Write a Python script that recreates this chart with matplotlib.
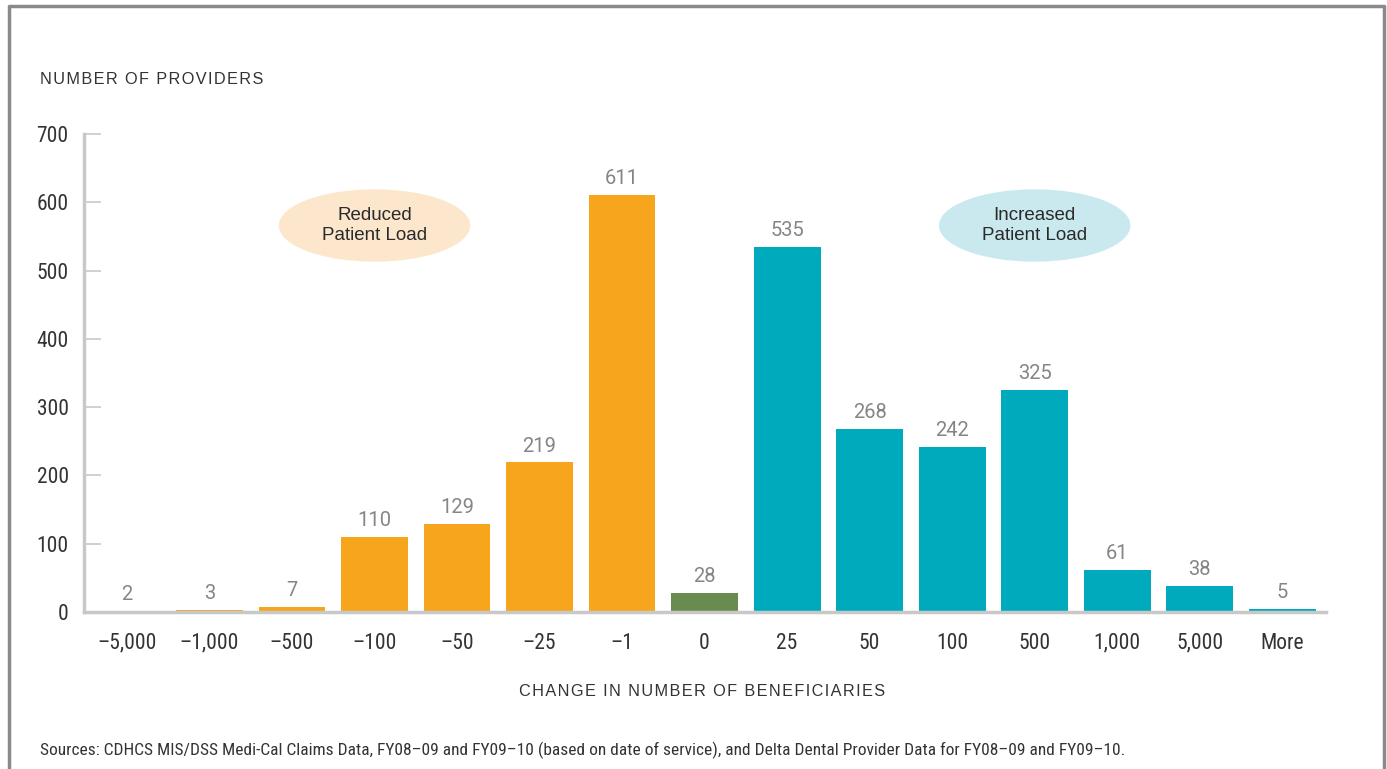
import matplotlib
matplotlib.use("Agg")
import matplotlib.pyplot as plt
from matplotlib.patches import Ellipse
from matplotlib import font_manager

categories = ["\u20135,000", "\u20131,000", "\u2013500", "\u2013100", "\u201350", "\u201325",
              "\u20131", "0", "25", "50", "100", "500", "1,000", "5,000", "More"]
providers = [2, 3, 7, 110, 129, 219, 611, 28, 535, 268, 242, 325, 61, 38, 5]
groups = ["reduced"] * 7 + ["none"] + ["increased"] * 7
yticks = [0, 100, 200, 300, 400, 500, 600, 700]

group_colors = {"reduced": "#F7A51D", "none": "#6A8B4F", "increased": "#00AABD"}

names = {f.name for f in font_manager.fontManager.ttflist}
narrow = "Roboto Condensed" if "Roboto Condensed" in names else "Roboto"
cond = [narrow, "DejaVu Sans"]
HS = "\u200a"


def spaced(s):
    return HS.join(s)


fig = plt.figure(figsize=(13.87, 7.69), dpi=100)
ax = fig.add_axes([84 / 1387, 1 - 612 / 769, (1326 - 84) / 1387, (612 - 134) / 769])

x = list(range(len(categories)))
ax.bar(x, providers, width=0.81, color=[group_colors[g] for g in groups], zorder=2)
for xi, v in zip(x, providers):
    ax.annotate(str(v), (xi, v), xytext=(0, 5), textcoords="offset points",
                ha="center", va="bottom", fontsize=14.5, color="#858585", family=["Roboto", "DejaVu Sans"])

ax.set_xlim(-0.52, len(categories) - 1 + 0.53)
ax.set_ylim(0, 700)
ax.set_yticks(yticks)
ax.set_yticklabels([str(t) for t in yticks], family=cond, fontsize=15.5, color="#333333")
ax.set_xticks(x)
ax.set_xticklabels(categories, family=cond, fontsize=15.5, color="#333333")
ax.tick_params(axis="y", direction="in", length=12, width=1.2, color="#C8C8C8", pad=11)
ax.tick_params(axis="x", length=0, pad=15)
for s in ["top", "right"]:
    ax.spines[s].set_visible(False)
ax.spines["left"].set_color("#C8C8C8")
ax.spines["left"].set_linewidth(2.5)
ax.spines["bottom"].set_color("#C8C8C8")
ax.spines["bottom"].set_linewidth(2.5)

ax.add_patch(Ellipse((3, 566), 2.32, 106, facecolor="#FDE7CC", edgecolor="none", zorder=1))
ax.text(3, 566, "Reduced\nPatient Load", ha="center", va="center", fontsize=13.5,
        color="#2A2A2A", linespacing=1.25, family="Liberation Sans")
ax.add_patch(Ellipse((11, 566), 2.32, 106, facecolor="#C9E9EF", edgecolor="none", zorder=1))
ax.text(11, 566, "Increased\nPatient Load", ha="center", va="center", fontsize=13.5,
        color="#2A2A2A", linespacing=1.25, family="Liberation Sans")

fig.text(40 / 1387, 1 - 80 / 769, spaced("NUMBER OF PROVIDERS"),
         fontsize=11.7, color="#333333", va="center", ha="left", family=["Liberation Sans", "DejaVu Sans"])
fig.text(702 / 1387, 1 - 692 / 769, spaced("CHANGE IN NUMBER OF BENEFICIARIES"),
         fontsize=11.7, color="#333333", va="center", ha="center", family=["Liberation Sans", "DejaVu Sans"])
fig.text(40 / 1387, 1 - 750 / 769,
         "Sources: CDHCS MIS/DSS Medi-Cal Claims Data, FY08\u201309 and FY09\u201310 (based on date of service), "
         "and Delta Dental Provider Data for FY08\u201309 and FY09\u201310.",
         fontsize=12.5, color="#333333", va="center", ha="left", family=cond)

# frame (open at bottom)
fig.add_artist(plt.Line2D([9 / 1387, 9 / 1387, 1384 / 1387, 1384 / 1387],
                          [0, 1 - 6 / 769, 1 - 6 / 769, 0],
                          transform=fig.transFigure, color="#8A8A8A", linewidth=2.5))

fig.savefig("out.png", dpi=100)
